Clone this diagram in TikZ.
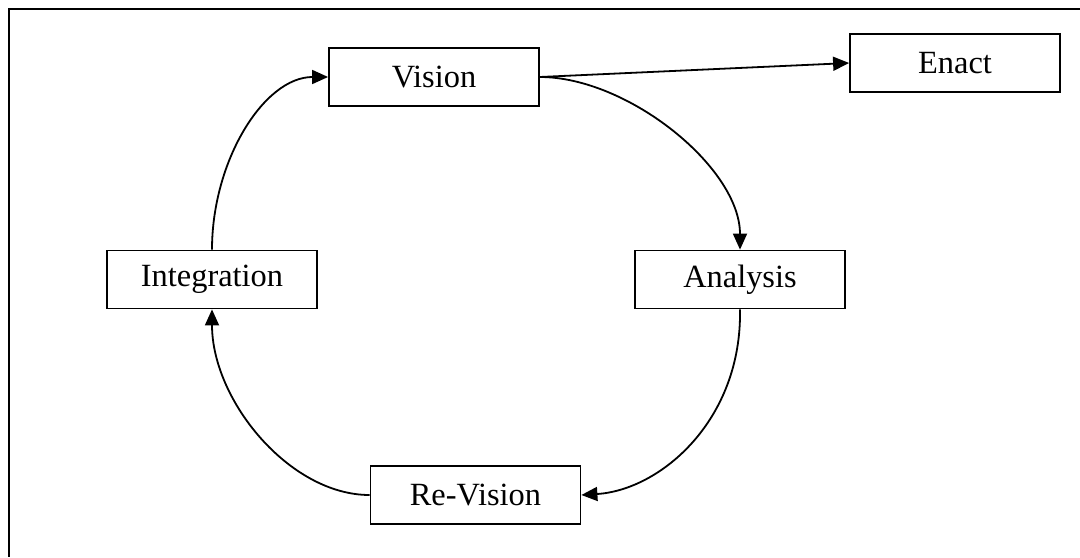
\documentclass[tikz,border=0pt]{standalone}
\usepackage{fontspec}
\setmainfont{Liberation Serif}
\usetikzlibrary{arrows.meta}
\begin{document}
\begin{tikzpicture}[x=0.5pt,y=-0.5pt,
  stage/.style={draw,line width=0.9pt,minimum width=105pt,minimum height=29pt,
    inner sep=0pt,font=\fontsize{16.2}{19}\selectfont},
  link/.style={line width=0.9pt,-{Triangle[length=8pt,width=7pt]}}]
\useasboundingbox (0,0) rectangle (1080,557);
% outer frame (only top and left edges fall inside the page)
\draw[line width=1.2pt] (1080,9) -- (9,9) -- (9,557);
% stages of the cycle
\node[stage] (vision) at (434,77) {Vision};
\node[stage] (enact) at (955,63) {Enact};
\node[stage] (integ) at (212,279.5) {Integration};
\node[stage] (analysis) at (740,279.5) {Analysis};
\node[stage] (revision) at (475.5,495) {Re-Vision};
% connectors
\draw[link] (vision.east) -- (enact.west);
\draw[link] (vision.east) .. controls +(88,0) and +(0,-82) .. (analysis.north);
\draw[link] (analysis.south) .. controls +(2,111) and +(79,-5) .. (revision.east);
\draw[link] (revision.west) .. controls +(-80,0) and +(0,91) .. (integ.south);
\draw[link] (integ.north) .. controls +(0,-89) and +(-64,0) .. (vision.west);
\end{tikzpicture}
\end{document}
